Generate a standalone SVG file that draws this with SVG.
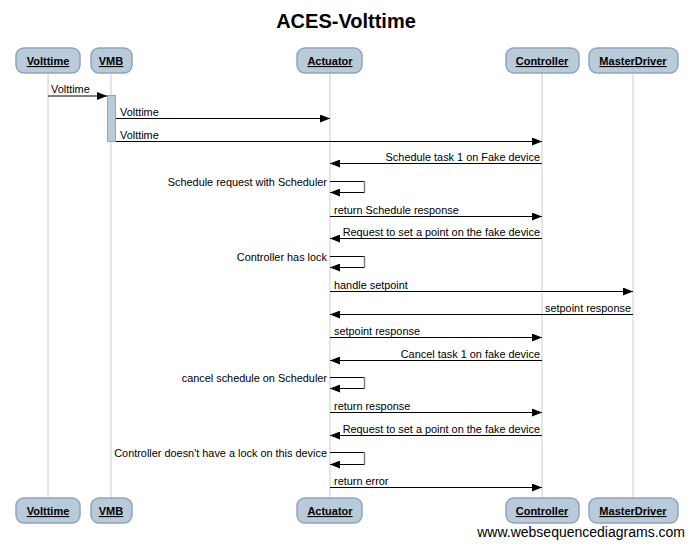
<svg xmlns="http://www.w3.org/2000/svg" width="693" height="546" viewBox="0 0 693 546">
<style>
text{font-family:"Liberation Sans",Arial,sans-serif;fill:#000}
.title{font-size:20px;font-weight:bold}
.pbox{fill:#b9cad9;stroke:#8ea4c0;stroke-width:1.5}
.pt{font-size:11px;font-weight:bold;text-decoration:underline}
.life{stroke:#cccccc;stroke-width:1}
.msg{stroke:#000;stroke-width:1;fill:none}
.loopv{stroke:#808080;stroke-width:1.5;fill:none}
.lbl{font-size:10.9px}
.act{fill:#b9cad9;stroke:#8ea4c0;stroke-width:1}
.foot{font-size:14px;fill:#000}
</style>
<defs>
<marker id="ah" markerWidth="10" markerHeight="8" refX="10" refY="4" orient="auto" markerUnits="userSpaceOnUse">
<path d="M0,0 L10,4 L0,8 Z" fill="#000"/>
</marker>
</defs>
<rect width="693" height="546" fill="#fff"/>
<text class="title" x="346" y="28" text-anchor="middle">ACES-Volttime</text>

<g id="lifelines">
<line class="life" x1="48" y1="73" x2="48" y2="498"/>
<line class="life" x1="111" y1="73" x2="111" y2="498"/>
<line class="life" x1="330" y1="73" x2="330" y2="498"/>
<line class="life" x1="542" y1="73" x2="542" y2="498"/>
<line class="life" x1="633" y1="73" x2="633" y2="498"/>
</g>

<g id="p-volttime">
<rect class="pbox" x="16" y="48" width="64" height="25" rx="8"/>
<text class="pt" x="48" y="65" text-anchor="middle">Volttime</text>
<rect class="pbox" x="16" y="498" width="64" height="25" rx="8"/>
<text class="pt" x="48" y="515" text-anchor="middle">Volttime</text>
</g>
<g id="p-vmb">
<rect class="pbox" x="91" y="48" width="41" height="25" rx="8"/>
<text class="pt" x="111" y="65" text-anchor="middle">VMB</text>
<rect class="pbox" x="91" y="498" width="41" height="25" rx="8"/>
<text class="pt" x="111" y="515" text-anchor="middle">VMB</text>
</g>
<g id="p-actuator">
<rect class="pbox" x="297" y="48" width="65" height="25" rx="8"/>
<text class="pt" x="330" y="65" text-anchor="middle">Actuator</text>
<rect class="pbox" x="297" y="498" width="65" height="25" rx="8"/>
<text class="pt" x="330" y="515" text-anchor="middle">Actuator</text>
</g>
<g id="p-controller">
<rect class="pbox" x="506" y="48" width="73" height="25" rx="8"/>
<text class="pt" x="542" y="65" text-anchor="middle">Controller</text>
<rect class="pbox" x="506" y="498" width="73" height="25" rx="8"/>
<text class="pt" x="542" y="515" text-anchor="middle">Controller</text>
</g>
<g id="p-masterdriver">
<rect class="pbox" x="589" y="48" width="89" height="25" rx="8"/>
<text class="pt" x="633" y="65" text-anchor="middle">MasterDriver</text>
<rect class="pbox" x="589" y="498" width="89" height="25" rx="8"/>
<text class="pt" x="633" y="515" text-anchor="middle">MasterDriver</text>
</g>

<g id="activation">
<rect class="act" x="107.5" y="95.5" width="8" height="46"/>
</g>

<g id="connectors">
<line class="msg" x1="48" y1="96" x2="107" y2="96" marker-end="url(#ah)"/>
<text class="lbl" x="51" y="93">Volttime</text>

<line class="msg" x1="116" y1="118.5" x2="330" y2="118.5" marker-end="url(#ah)"/>
<text class="lbl" x="120" y="116">Volttime</text>

<line class="msg" x1="116" y1="141.5" x2="542" y2="141.5" marker-end="url(#ah)"/>
<text class="lbl" x="120" y="139">Volttime</text>

<line class="msg" x1="542" y1="163.5" x2="330" y2="163.5" marker-end="url(#ah)"/>
<text class="lbl" x="540" y="160.5" text-anchor="end">Schedule task 1 on Fake device</text>

<line class="msg" x1="330" y1="181.5" x2="364" y2="181.5"/>
<line class="loopv" x1="364.5" y1="181" x2="364.5" y2="193"/>
<line class="msg" x1="364" y1="192.5" x2="330" y2="192.5" marker-end="url(#ah)"/>
<text class="lbl" x="327" y="186" text-anchor="end">Schedule request with Scheduler</text>

<line class="msg" x1="330" y1="216.5" x2="542" y2="216.5" marker-end="url(#ah)"/>
<text class="lbl" x="334" y="214">return Schedule response</text>

<line class="msg" x1="542" y1="238.5" x2="330" y2="238.5" marker-end="url(#ah)"/>
<text class="lbl" x="540" y="235.5" text-anchor="end">Request to set a point on the fake device</text>

<line class="msg" x1="330" y1="256.5" x2="364" y2="256.5"/>
<line class="loopv" x1="364.5" y1="256" x2="364.5" y2="268"/>
<line class="msg" x1="364" y1="267.5" x2="330" y2="267.5" marker-end="url(#ah)"/>
<text class="lbl" x="327" y="261" text-anchor="end">Controller has lock</text>

<line class="msg" x1="330" y1="291.5" x2="633" y2="291.5" marker-end="url(#ah)"/>
<text class="lbl" x="334" y="289">handle setpoint</text>

<line class="msg" x1="633" y1="314.5" x2="330" y2="314.5" marker-end="url(#ah)"/>
<text class="lbl" x="631" y="312" text-anchor="end">setpoint response</text>

<line class="msg" x1="330" y1="337.5" x2="542" y2="337.5" marker-end="url(#ah)"/>
<text class="lbl" x="334" y="335">setpoint response</text>

<line class="msg" x1="542" y1="360.5" x2="330" y2="360.5" marker-end="url(#ah)"/>
<text class="lbl" x="540" y="357.5" text-anchor="end">Cancel task 1 on fake device</text>

<line class="msg" x1="330" y1="377.5" x2="364" y2="377.5"/>
<line class="loopv" x1="364.5" y1="377" x2="364.5" y2="389"/>
<line class="msg" x1="364" y1="388.5" x2="330" y2="388.5" marker-end="url(#ah)"/>
<text class="lbl" x="327" y="382" text-anchor="end">cancel schedule on Scheduler</text>

<line class="msg" x1="330" y1="412.5" x2="542" y2="412.5" marker-end="url(#ah)"/>
<text class="lbl" x="334" y="410">return response</text>

<line class="msg" x1="542" y1="435.5" x2="330" y2="435.5" marker-end="url(#ah)"/>
<text class="lbl" x="540" y="432.5" text-anchor="end">Request to set a point on the fake device</text>

<line class="msg" x1="330" y1="452.5" x2="364" y2="452.5"/>
<line class="loopv" x1="364.5" y1="452" x2="364.5" y2="465"/>
<line class="msg" x1="364" y1="464.5" x2="330" y2="464.5" marker-end="url(#ah)"/>
<text class="lbl" x="327" y="457" text-anchor="end">Controller doesn't have a lock on this device</text>

<line class="msg" x1="330" y1="487.5" x2="542" y2="487.5" marker-end="url(#ah)"/>
<text class="lbl" x="334" y="485">return error</text>
</g>

<text class="foot" x="685" y="537" text-anchor="end">www.websequencediagrams.com</text>
</svg>
